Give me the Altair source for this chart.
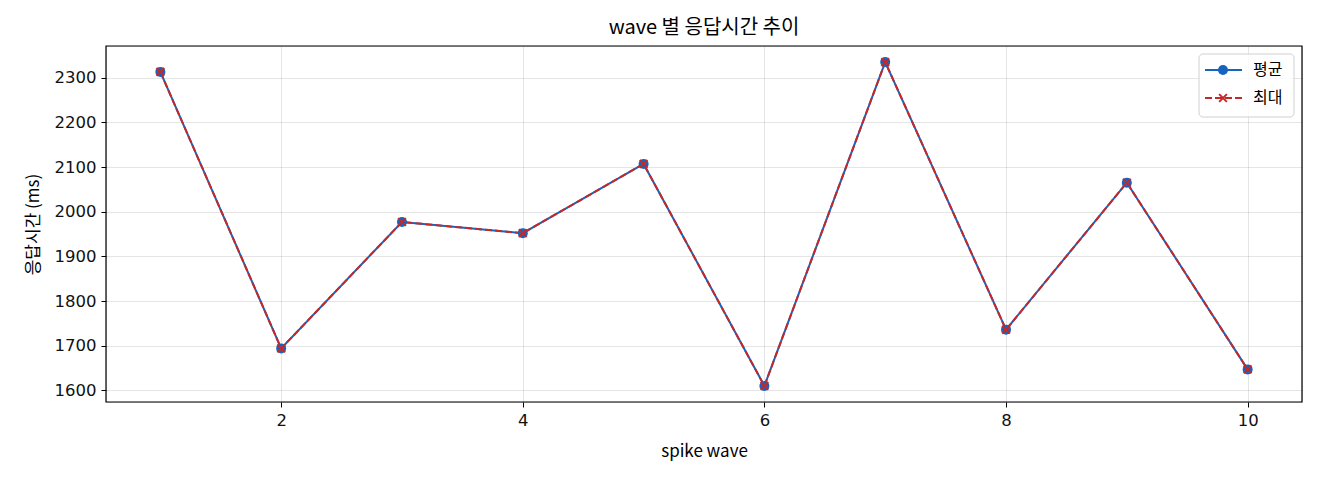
import altair as alt
import pandas as pd

waves = [1, 2, 3, 4, 5, 6, 7, 8, 9, 10]
mean_ms = [2313, 1694, 1977, 1952, 2107, 1610, 2335, 1736, 2065, 1647]
max_ms = [2313, 1694, 1977, 1952, 2107, 1610, 2335, 1736, 2065, 1647]
series_names = ["평균", "최대"]
x_ticks = [2, 4, 6, 8, 10]
y_ticks = [1600, 1700, 1800, 1900, 2000, 2100, 2200, 2300]

BLUE = "#1565C0"
RED = "#C62828"
FONT = "DejaVu Sans, Noto Sans CJK KR"
KFONT = "Noto Sans CJK KR"
W, H = 1196, 356

df_mean = pd.DataFrame({"wave": waves, "ms": mean_ms})
df_max = pd.DataFrame({"wave": waves, "ms": max_ms})

xs = alt.Scale(domain=[0.55, 10.45], nice=False, zero=False)
ys = alt.Scale(domain=[1574, 2371], nice=False, zero=False)

common = dict(grid=True, gridColor="#000", gridOpacity=0.1, tickColor="#000", domain=False,
              labelFontSize=16.5, titleFontSize=17, labelColor="#111", titleColor="#000",
              titleFontWeight="normal", labelFont=FONT, titleFont=KFONT, tickSize=5, labelPadding=5)
X = alt.X("wave:Q", scale=xs, title="spike wave",
          axis=alt.Axis(values=x_ticks, format="d", titlePadding=15, **common))
Y = alt.Y("ms:Q", scale=ys, title="응답시간 (ms)",
          axis=alt.Axis(values=y_ticks, format="d", titlePadding=12, **common))

XSHAPE = "M-1,-1L1,1M1,-1L-1,1"
CSIZE, XSIZE = 100, 60
mean_line = alt.Chart(df_mean).mark_line(color=BLUE, strokeWidth=2).encode(x=X, y=Y)
mean_pts = alt.Chart(df_mean).mark_point(shape="circle", filled=True, color=BLUE, size=CSIZE, opacity=1).encode(x=X, y=Y)
max_line = alt.Chart(df_max).mark_line(color=RED, strokeWidth=2, strokeDash=[7, 3]).encode(x=X, y=Y)
max_pts = alt.Chart(df_max).mark_point(shape=XSHAPE, filled=False, color=RED, size=XSIZE, strokeWidth=2, opacity=1).encode(x=X, y=Y)

frame_df = pd.DataFrame({"k": [0]})
frame = alt.Chart(frame_df).mark_rect(fill=None, stroke="#000", strokeWidth=1.2).encode(
    x=alt.value(0), x2=alt.value(W), y=alt.value(0), y2=alt.value(H))

# legend (manual)
leg_df = pd.DataFrame({"name": series_names})
box = alt.Chart(leg_df.head(1)).mark_rect(fill="white", fillOpacity=0.8, stroke="#d0d0d0",
                                          strokeWidth=1, cornerRadius=4).encode(
    x=alt.value(1093), x2=alt.value(1188), y=alt.value(8), y2=alt.value(71))
l1 = alt.Chart(leg_df.head(1)).mark_rule(color=BLUE, strokeWidth=2).encode(
    x=alt.value(1099), x2=alt.value(1136), y=alt.value(24))
p1 = alt.Chart(leg_df.head(1)).mark_point(shape="circle", filled=True, color=BLUE, size=CSIZE, opacity=1).encode(
    x=alt.value(1117), y=alt.value(24))
t1 = alt.Chart(leg_df.head(1)).mark_text(align="left", baseline="middle", fontSize=16, font=KFONT, color="#000").encode(
    x=alt.value(1147), y=alt.value(24), text="name:N")
l2 = alt.Chart(leg_df.head(1)).mark_rule(color=RED, strokeWidth=2, strokeDash=[7, 3]).encode(
    x=alt.value(1099), x2=alt.value(1136), y=alt.value(52))
p2 = alt.Chart(leg_df.head(1)).mark_point(shape=XSHAPE, filled=False, color=RED, size=XSIZE, strokeWidth=2, opacity=1).encode(
    x=alt.value(1117), y=alt.value(52))
t2 = alt.Chart(leg_df.tail(1)).mark_text(align="left", baseline="middle", fontSize=16, font=KFONT, color="#000").encode(
    x=alt.value(1147), y=alt.value(52), text="name:N")

chart = alt.layer(mean_line, max_line, mean_pts, max_pts, frame, box, l1, l2, p1, p2, t1, t2).properties(
    width=W, height=H,
    title=alt.TitleParams("wave 별 응답시간 추이", fontSize=20, font=KFONT, fontWeight="normal",
                          color="#000", anchor="middle", offset=7),
    autosize=alt.AutoSizeParams(type="none"),
    padding={"left": 98, "top": 38, "right": 10, "bottom": 70},
).configure_view(strokeWidth=0).configure(background="white")

chart.save("out.html", embed_options={"renderer": "svg", "actions": False})
